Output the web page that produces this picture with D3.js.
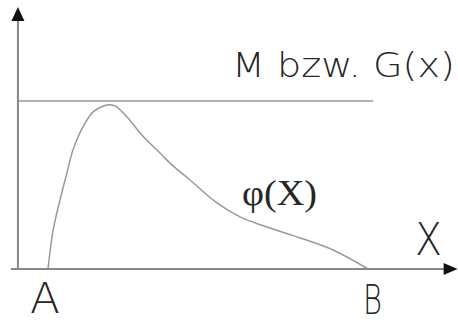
<!DOCTYPE html>
<html>
<head>
<script src="https://d3js.org/d3.v7.min.js"></script>
<style>
  html, body { margin: 0; padding: 0; background: #fff; }
  svg { display: block; }
  text { fill: #262626; }
</style>
</head>
<body>
<svg width="458" height="324"></svg>
<script>
// curve phi(x), x: 0 = A, 1 = B ; y: 1 = level M
var curveX = [0, 0.016, 0.0375, 0.059, 0.078, 0.109, 0.141, 0.175, 0.194, 0.212, 0.247, 0.297, 0.35, 0.39, 0.444, 0.528, 0.6, 0.684, 0.788, 0.891, 1];
var curveY = [0, 0.232, 0.411, 0.571, 0.708, 0.845, 0.935, 0.972, 0.978, 0.968, 0.905, 0.79, 0.69, 0.615, 0.53, 0.393, 0.31, 0.25, 0.185, 0.113, 0];
var levelM = 1;
var axisX = [-0.094, 1.28];   // extent of x axis in data units
var axisY = [0, 1.56];        // extent of y axis
var labels = [
  { text: "M bzw. G(x)", x: 0.575, y: 1.14, size: 33, len: 223, font: "DejaVu Sans", w: 200 },
  { text: "\u03c6(X)", x: 0.606, y: 0.38, size: 36, len: 75, font: "Liberation Serif", w: 400 },
  { text: "X", x: 1.147, y: 0.083, size: 44, len: 27, font: "DejaVu Sans", w: 200 },
  { text: "A", x: -0.056, y: -0.262, size: 43, len: 30, font: "DejaVu Sans", w: 200 },
  { text: "B", x: 0.984, y: -0.27, size: 40, len: 19, font: "DejaVu Sans", w: 200 }
];

var svg = d3.select("svg");
var x = d3.scaleLinear().domain([0, 1]).range([48, 368]);
var y = d3.scaleLinear().domain([0, 1]).range([269, 101]);

var pts = curveX.map(function(d, i) { return [d, curveY[i]]; });
var ox = x(axisX[0]), oy = y(0);

// level line M
svg.append("line")
  .attr("x1", ox).attr("x2", x(1.016))
  .attr("y1", y(levelM)).attr("y2", y(levelM))
  .attr("stroke", "#999").attr("stroke-width", 1.5);

// curve
var line = d3.line()
  .x(function(d) { return x(d[0]); })
  .y(function(d) { return y(d[1]); })
  .curve(d3.curveCatmullRom);
svg.append("path")
  .attr("d", line(pts))
  .attr("fill", "none")
  .attr("stroke", "#999")
  .attr("stroke-width", 1.5);

// axes
svg.append("line")
  .attr("x1", ox).attr("x2", ox)
  .attr("y1", oy).attr("y2", y(axisY[1]) + 10)
  .attr("stroke", "#888").attr("stroke-width", 2);
svg.append("line")
  .attr("x1", ox - 7).attr("x2", x(axisX[1]) - 10)
  .attr("y1", oy).attr("y2", oy)
  .attr("stroke", "#888").attr("stroke-width", 2);

// arrow heads
var ty = y(axisY[1]);
svg.append("path")
  .attr("d", "M" + ox + "," + ty + "L" + (ox + 6.5) + "," + (ty + 14) + "L" + (ox - 6.5) + "," + (ty + 14) + "Z")
  .attr("fill", "#111");
var tx = x(axisX[1]);
svg.append("path")
  .attr("d", "M" + tx + "," + oy + "L" + (tx - 14) + "," + (oy - 6) + "L" + (tx - 14) + "," + (oy + 6) + "Z")
  .attr("fill", "#111");

// labels, stretched horizontally to the wide lettering of the original
svg.selectAll("text.lbl")
  .data(labels)
  .enter().append("text")
  .attr("class", "lbl")
  .attr("font-family", function(d) { return d.font; })
  .attr("font-weight", function(d) { return d.w; })
  .attr("font-size", function(d) { return d.size; })
  .text(function(d) { return d.text; })
  .attr("transform", function(d) {
    var s = d.len / this.getComputedTextLength();
    return "translate(" + x(d.x) + "," + y(d.y) + ") scale(" + s + ",1)";
  });
</script>
</body>
</html>
